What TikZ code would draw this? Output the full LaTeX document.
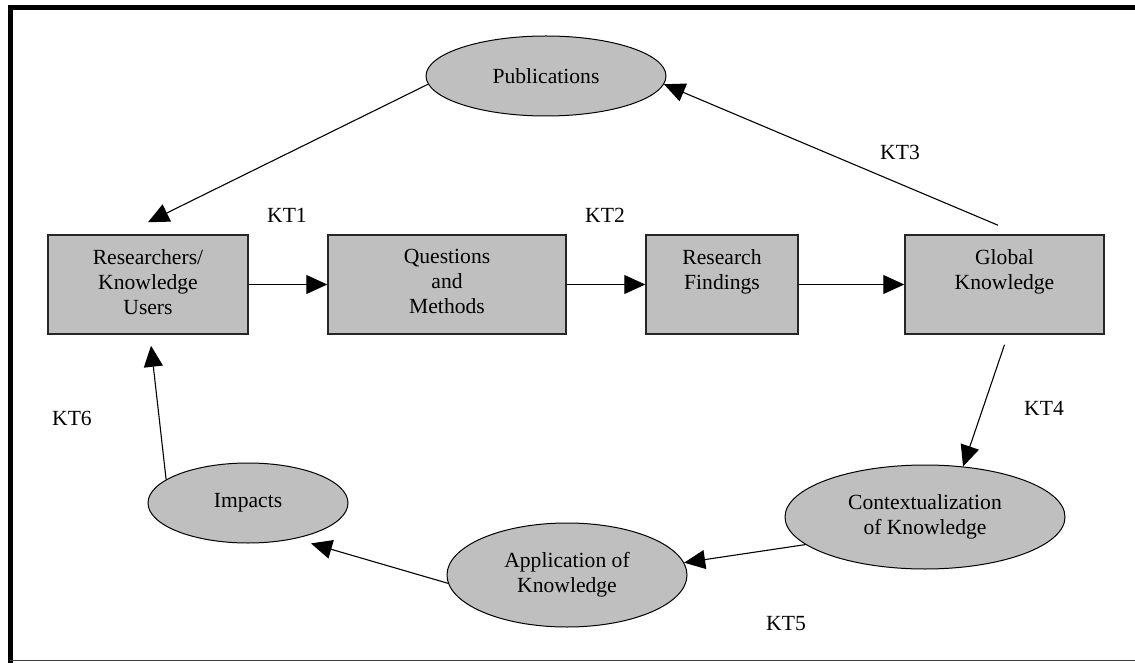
\documentclass[tikz,border=0pt]{standalone}
\usepackage{fontspec}
\setmainfont{Liberation Serif}
\usetikzlibrary{arrows.meta,shapes.geometric,positioning}

\begin{document}
\begin{tikzpicture}[x=0.5pt,y=-0.5pt,>={Triangle[length=10.5pt,width=9.5pt]},
        font=\fontsize{10.8}{12.5}\selectfont,
        kbox/.style={draw=black!85,line width=0.75pt,fill=black!25,inner sep=0pt},
        kell/.style={ellipse,draw,line width=0.5pt,fill=black!25,inner sep=0pt,align=center},
        ktext/.style={inner sep=0pt,align=center},
        kt/.style={line width=0.55pt}]
        \useasboundingbox (0,0) rectangle (1135,663);
        % frame
        \draw [line width=2.5pt] (10,663)--(10,7.5)--(1135,7.5);
        \draw [black!75,line width=0.75pt] (10,660.5)--(1135,660.5);
        % boxes
        \node [kbox,minimum width=100pt,minimum height=49.5pt] (res) at (148,284.5) {};
        \node [kbox,minimum width=119pt,minimum height=49.5pt] (qm) at (447,284.5) {};
        \node [kbox,minimum width=76pt,minimum height=49.5pt] (rf) at (722,284.5) {};
        \node [kbox,minimum width=99.5pt,minimum height=49.5pt] (gk) at (1004.5,284.5) {};
        \node [ktext,below=7.5pt of res.north] (resT) {Researchers/\\Knowledge\\Users};
        \node [ktext,below=7.5pt of qm.north] (qmT) {Questions\\and\\Methods};
        \node [ktext,below=7.5pt of rf.north] (rfT) {Research\\Findings};
        \node [ktext,below=7.5pt of gk.north] (gkT) {Global\\Knowledge};
        % ellipses
        \node [kell,minimum width=120pt,minimum height=40pt] (pub) at (546,76) {Publications};
        \node [kell,minimum width=140pt,minimum height=52pt] (ctx) at (925,517) {Contextualization\\of Knowledge};
        \node [kell,minimum width=120pt,minimum height=52pt] (app) at (567,575) {Application of\\Knowledge};
        \node [kell,minimum width=100pt,minimum height=40pt] (imp) at (248,503) {Impacts};
        % arrows
        \draw [kt,->] (res.east)--(qm.west);
        \draw [kt,->] (qm.east)--(rf.west);
        \draw [kt,->] (rf.east)--(gk.west);
        \draw [kt,->] (pub.184)--([yshift=6pt]res.north);
        \draw [kt,->] ([xshift=-3.25pt,yshift=4.5pt]gk.north)--(pub.-4);
        \draw [kt,->] ([yshift=-5pt]gk.south)--(ctx.53);
        \draw [kt,->] (ctx.193)--(app.6);
        \draw [kt,->] (app.184)--([xshift=5pt,yshift=-3pt]imp.-33);
        \draw [kt,->] (imp.164)--([xshift=1.5pt,yshift=-5.5pt]res.south);
        % labels
        \node (kt1) at (287,215) {KT1};
        \node (kt2) at (605,215) {KT2};
        \node (kt3) at (900,152) {KT3};
        \node (kt4) at (1044,408) {KT4};
        \node (kt5) at (786,624) {KT5};
        \node (kt6) at (72,418) {KT6};
\end{tikzpicture}
\end{document}
